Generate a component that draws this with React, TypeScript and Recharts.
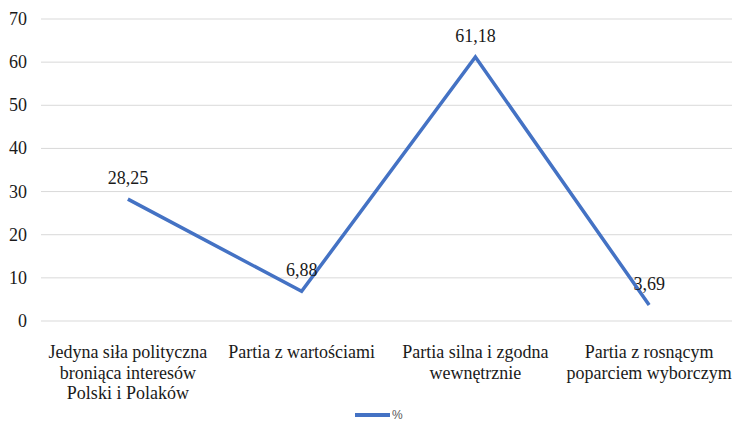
import React from "react";
import { LineChart, Line, XAxis, YAxis, CartesianGrid, LabelList } from "recharts";

const categories = [
  "Jedyna siła polityczna broniąca interesów Polski i Polaków",
  "Partia z wartościami",
  "Partia silna i zgodna wewnętrznie",
  "Partia z rosnącym poparciem wyborczym",
];
const categoryLines: string[][] = [
  ["Jedyna siła polityczna", "broniąca interesów", "Polski i Polaków"],
  ["Partia z wartościami"],
  ["Partia silna i zgodna", "wewnętrznie"],
  ["Partia z rosnącym", "poparciem wyborczym"],
];
const values = [28.25, 6.88, 61.18, 3.69];
const yTicks = [0, 10, 20, 30, 40, 50, 60, 70];
const seriesName = "%";

const data = categories.map((c, i) => ({ name: c, value: values[i], idx: i }));

const FONT = "'Liberation Serif', 'Times New Roman', serif";
const TEXT = "#1a1a1a";
const txtStyle = { fontFamily: FONT, fontSize: 18, fill: TEXT } as const;

const XTick = (props: any) => {
  const { x, y, payload } = props;
  const lines = categoryLines[payload.index] ?? [String(payload.value)];
  return (
    <g>
      {lines.map((l, i) => (
        <text key={i} x={x} y={y + 29 + i * 20.5} textAnchor="middle" style={txtStyle}>
          {l}
        </text>
      ))}
    </g>
  );
};

const YTick = (props: any) => {
  const { y, payload } = props;
  return (
    <text x={27} y={y + 6} textAnchor="end" style={txtStyle}>
      {payload.value}
    </text>
  );
};

const ValueLabel = (props: any) => {
  const { x, y, value } = props;
  return (
    <text x={x} y={y - 15} textAnchor="middle" style={txtStyle}>
      {String(value).replace(".", ",")}
    </text>
  );
};

export default function App() {
  return (
    <div style={{ position: "absolute", left: 0, top: 0, width: 732, height: 422, background: "#fff", overflow: "hidden" }}>
      <LineChart width={732} height={422} data={data} margin={{ top: 19, right: -4, left: 0, bottom: 31 }}>
        <CartesianGrid vertical={false} stroke="#d9d9d9" strokeWidth={1} />
        <XAxis
          dataKey="name"
          scale="band"
          axisLine={false}
          tickLine={false}
          tick={<XTick />}
          interval={0}
          height={70}
        />
        <YAxis
          domain={[0, 70]}
          ticks={yTicks}
          axisLine={false}
          tickLine={false}
          width={41}
          tick={<YTick />}
        />
        <Line
          type="linear"
          dataKey="value"
          name={seriesName}
          stroke="#4472C4"
          strokeWidth={3.5}
          dot={false}
          activeDot={false}
          isAnimationActive={false}
        >
          <LabelList dataKey="value" content={<ValueLabel />} />
        </Line>
      </LineChart>
      <div style={{ position: "absolute", left: 355, top: 409, height: 12, lineHeight: "12px", display: "flex", alignItems: "center", fontFamily: "'Liberation Sans', Arial, sans-serif", fontSize: 12, color: "#595959" }}>
        <span style={{ display: "inline-block", width: 35, height: 3.5, background: "#4472C4", marginRight: 2 }} />
        <span>{seriesName}</span>
      </div>
    </div>
  );
}
